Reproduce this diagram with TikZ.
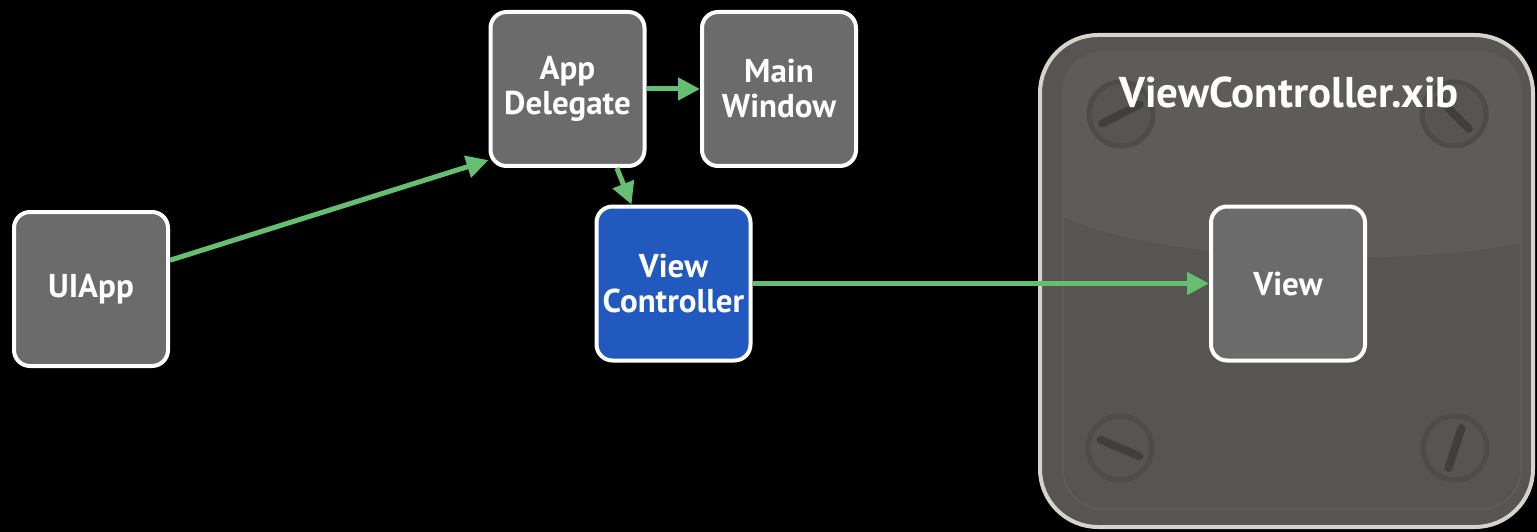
\documentclass[tikz,border=0pt]{standalone}
\usepackage{fontspec}
\setmainfont{PT Sans}
\usepackage{tikz}
\usetikzlibrary{positioning, arrows.meta}
\tikzstyle{diagram} = [x = 1pt, y = -1pt]
\definecolor{boxGray}{RGB}{107,107,107}
\definecolor{controllerBlue}{RGB}{33,89,190}
\definecolor{arrowGreen}{RGB}{102,190,112}
\definecolor{panelColor}{RGB}{86,85,81}
\definecolor{glossColor}{RGB}{93,92,88}
\definecolor{bevelColor}{RGB}{93,92,88}
\definecolor{panelBorder}{RGB}{212,212,204}
\definecolor{screwRing}{RGB}{77,76,73}
\definecolor{screwSlot}{RGB}{64,63,60}
\tikzstyle{boxStyle} = [draw=white, fill=boxGray, line width=4pt, rounded corners=16pt, minimum size=154pt, inner sep=0pt, align=center, text=white, font=\fontsize{33}{35}\selectfont\bfseries]
\tikzstyle{linkArrow} = [color=arrowGreen, line width=5pt, -{Triangle[length=22pt, width=22pt]}]
\tikzstyle{panelStyle} = [draw=panelBorder, fill=panelColor, line width=4pt, rounded corners=58pt]
\tikzstyle{bevelStyle} = [draw=bevelColor, line width=2pt, rounded corners=40pt]
\tikzstyle{screwStyle} = [draw=screwRing, fill=panelColor, line width=5pt]
\tikzstyle{slotStyle} = [draw=screwSlot, line width=8pt, line cap=round]
\tikzstyle{titleText} = [text=white, font=\fontsize{43}{50}\selectfont\bfseries, inner sep=0pt]
\newcommand{\screw}[3]{\filldraw [screwStyle] (#1,#2) circle (32); \draw [slotStyle, shift={(#1,#2)}] (#3:21) -- (#3+180:21);}

\begin{document}
\begin{tikzpicture}[diagram]
  \fill [black] (0,0) rectangle (1537,532);
  \useasboundingbox (0,0) rectangle (1537,532);

  \filldraw [panelStyle] (1040,35) rectangle (1533,527);
  \begin{scope}
    \clip [rounded corners=40pt] (1063,52) rectangle (1521,509);
    \fill [glossColor] (1063,52) -- (1063,217) .. controls (1160,262) and (1400,268) .. (1521,243) -- (1521,52) -- cycle;
  \end{scope}
  \draw [bevelStyle] (1063,52) rectangle (1521,509);
  \screw{1121}{114}{-27}
  \screw{1454}{114}{45}
  \screw{1120}{448}{23}
  \screw{1455}{448}{108}
  \node [titleText, anchor=base] (xibTitle) at (1289,108) {ViewController.xib};

  \node [boxStyle] (uiApp) at (91,289) {UIApp};
  \node [boxStyle] (appDelegate) at (567.5,89) {App\\Delegate};
  \node [boxStyle] (mainWindow) at (779,89) {Main\\Window};
  \node [boxStyle, fill=controllerBlue] (viewController) at (673.5,283.5) {View\\Controller};
  \node [boxStyle] (view) at (1288,283.5) {View};

  \draw [linkArrow] (uiApp.20) -- (appDelegate.222);
  \draw [linkArrow] (appDelegate.east) -- (mainWindow.west);
  \draw [linkArrow] (appDelegate.-58) -- (viewController.118);
  \draw [linkArrow] (viewController.east) -- (view.west);
\end{tikzpicture}
\end{document}
